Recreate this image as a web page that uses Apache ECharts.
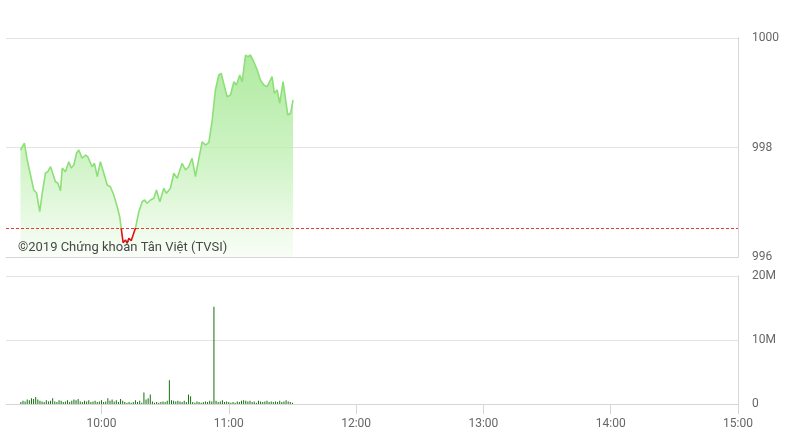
<!DOCTYPE html>
<html>
<head>
<meta charset="utf-8">
<script src="https://cdn.jsdelivr.net/npm/echarts@6/dist/echarts.min.js"></script>
<style>
html,body{margin:0;padding:0;background:#fff;}
#chart{width:787px;height:442px;}
</style>
</head>
<body>
<div id="chart"></div>
<script>
// ---- data (minute of day, price) ----
const priceTimes = [561.8,563.7,565.0,565.7,568.1,569.4,570.9,572.1,573.6,574.7,576.0,576.8,578.3,579.4,580.7,581.5,583.0,584.6,585.7,587.0,588.2,589.3,590.9,592.5,593.5,595.6,596.7,598.0,599.5,601.1,602.7,604.2,605.8,607.4,608.6,609.3,610.2,611.3,612.1,612.9,614.0,614.9,616.0,617.6,619.2,620.3,621.5,623.1,624.7,625.9,627.5,629.4,630.6,632.5,634.1,635.7,638.0,639.6,641.1,642.7,644.3,645.9,647.5,649.0,650.6,652.2,653.7,655.3,656.4,658.0,659.2,660.8,662.4,663.6,665.2,666.3,667.9,669.0,670.2,671.8,673.4,674.9,676.5,678.1,680.4,681.5,682.8,684.0,685.6,686.7,687.8,689.1,690.3];
const priceValues = [997.954,998.077,997.772,997.808,997.224,997.169,996.827,997.169,997.534,997.558,997.649,997.626,997.375,997.352,997.211,997.626,997.558,997.741,997.626,997.680,997.894,997.954,997.803,997.863,997.832,997.649,997.711,997.467,997.741,997.529,997.315,997.284,997.132,996.919,996.736,996.524,996.261,996.311,996.250,996.342,996.298,996.323,996.524,996.827,997.010,997.041,996.981,997.041,997.072,997.224,997.010,997.255,997.163,997.255,997.529,997.437,997.711,997.589,997.649,997.803,997.467,997.803,998.106,998.046,998.088,998.502,999.050,999.324,999.355,999.111,998.928,998.959,999.202,999.142,999.324,999.202,999.689,999.658,999.689,999.567,999.416,999.233,999.142,999.111,999.293,998.990,999.050,998.807,999.202,998.899,998.594,998.625,998.868];
const refPrice = 996.53;

// per-minute volume (millions), starting 09:22
const volumeStartMinute = 562;
const volumeValues = [
0.3,0.5,0.4,0.7,0.6,0.9,0.8,1.1,0.7,0.5,
0.4,0.3,0.6,0.4,0.5,0.9,0.4,0.3,0.6,0.5,
0.3,0.4,0.6,0.3,0.5,0.7,0.6,0.8,0.4,0.3,
0.5,0.4,0.6,0.3,0.4,0.5,0.3,0.4,0.6,0.3,
0.4,0.9,0.5,0.7,0.4,0.6,0.3,0.8,0.5,0.3,
0.2,0.3,0.2,0.3,0.6,0.3,0.5,0.2,1.8,0.7,
0.9,1.5,0.4,0.2,0.3,0.2,0.3,0.4,0.3,0.5,
3.7,0.6,0.5,0.4,0.5,0.4,0.3,0.5,0.3,1.5,
1.2,0.3,0.2,0.4,0.3,0.2,0.3,0.4,0.3,0.5,
0.4,15.2,0.5,0.3,0.4,0.6,0.3,0.4,0.3,0.2,
0.3,0.2,0.4,0.3,0.5,0.6,0.5,0.4,0.5,0.3,
0.4,0.2,0.5,0.4,0.3,0.4,0.5,0.3,0.4,0.3,
0.4,0.3,0.5,0.3,0.4,0.6,0.4,0.3,0.2];

const xTickMinutes = [600,660,720,780,840,900];
const xMin = 555, xMax = 900;
const watermark = '©2019 Chứng khoán Tân Việt (TVSI)';

// ---- build ----
const priceData = priceTimes.map((t,i)=>[t, priceValues[i]]);
const volData = volumeValues.map((v,i)=>[volumeStartMinute+i, v]);
const fmtTime = m => { const h=Math.floor(m/60), mm=Math.round(m%60); return h+':'+(mm<10?'0':'')+mm; };

const gridLine = '#e3e3e3';
const borderLine = '#d6d6d6';
const labelColor = '#666';
const font = 'Roboto';

const chart = echarts.init(document.getElementById('chart'));
chart.setOption({
  animation:false,
  backgroundColor:'#fff',
  textStyle:{fontFamily:font},
  grid:[
    {left:6,right:49,top:38,height:219},
    {left:6,right:49,top:276,height:128}
  ],
  xAxis:[
    {type:'value',gridIndex:0,min:xMin,max:xMax,
     axisLine:{show:true,lineStyle:{color:borderLine}},
     axisTick:{show:false},axisLabel:{show:false},splitLine:{show:false}},
    {type:'value',gridIndex:1,min:xMin,max:xMax,
     axisLine:{show:true,lineStyle:{color:borderLine}},
     axisTick:{show:true,length:10,customValues:xTickMinutes,lineStyle:{color:borderLine}},
     axisLabel:{show:true,customValues:xTickMinutes,formatter:v=>fmtTime(v),color:labelColor,fontSize:12,margin:14,fontFamily:font},
     splitLine:{show:false}}
  ],
  yAxis:[
    {type:'value',gridIndex:0,position:'right',min:996,max:1000,interval:2,
     axisLine:{show:true,lineStyle:{color:borderLine}},axisTick:{show:false},
     axisLabel:{color:labelColor,fontSize:12,margin:14,fontFamily:font,formatter:v=>String(v)},
     splitLine:{show:true,lineStyle:{color:gridLine}}},
    {type:'value',gridIndex:1,position:'right',min:0,max:20,interval:10,
     axisLine:{show:true,lineStyle:{color:borderLine}},axisTick:{show:false},
     axisLabel:{color:labelColor,fontSize:12,margin:14,fontFamily:font,formatter:v=>v===0?'0':v+'M'},
     splitLine:{show:true,lineStyle:{color:gridLine}}}
  ],
  visualMap:{type:'piecewise',show:false,seriesIndex:0,dimension:1,
    pieces:[{gte:990,lt:refPrice,color:'#e01010'},{gte:refPrice,lte:1010,color:'#8ddf78'}]},
  series:[
    {type:'line',xAxisIndex:0,yAxisIndex:0,data:priceData,symbol:'none',
     lineStyle:{width:1.6},
     areaStyle:{origin:'start',color:new echarts.graphic.LinearGradient(0,0,0,1,[
        {offset:0,color:'#8ee279'},
        {offset:0.5,color:'#b9eeab'},
        {offset:1,color:'#f6fdf4'}])},
     markLine:{silent:true,symbol:'none',label:{show:false},
       lineStyle:{color:'#e23b3b',type:[3,2],width:1},
       data:[{yAxis:refPrice}]}},
    {type:'bar',xAxisIndex:1,yAxisIndex:1,data:volData,barWidth:1,
     itemStyle:{color:'#14700f'}}
  ],
  graphic:[{type:'text',left:18,top:241,z:100,style:{text:watermark,fill:'#484848',fontSize:13,fontFamily:font}}]
});
</script>
</body>
</html>
